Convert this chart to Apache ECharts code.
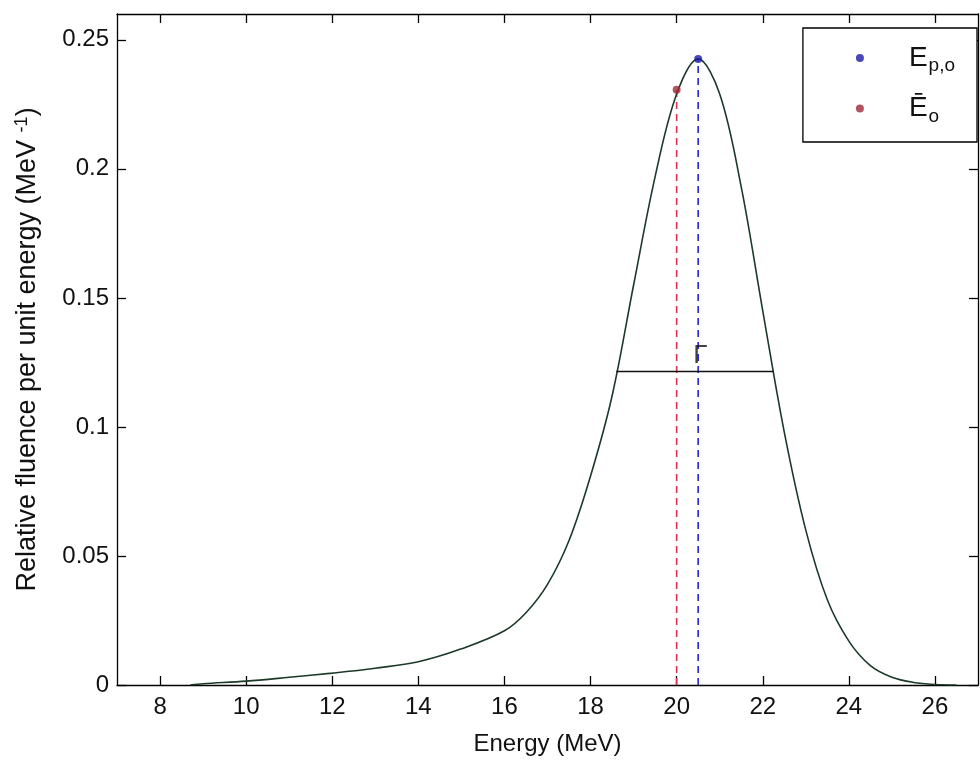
<!DOCTYPE html>
<html>
<head>
<meta charset="utf-8">
<script src="https://cdn.jsdelivr.net/npm/echarts@6/dist/echarts.min.js"></script>
<style>
  html, body { margin: 0; padding: 0; background: #fff; }
  #chart { width: 980px; height: 761px; }
</style>
</head>
<body>
<div id="chart"></div>
<script>
// energy spectrum
const energy = [8.7, 9, 10, 11, 12, 13, 14, 15, 16, 16.5, 17, 17.5, 18, 18.5, 19, 19.5, 20, 20.5, 21, 21.5, 22, 22.5, 23, 23.5, 24, 24.5, 25, 25.5, 26, 26.5];
const fluence = [0, 0.0005, 0.0015, 0.003, 0.0046, 0.0065, 0.009, 0.014, 0.021, 0.028, 0.039, 0.056, 0.081, 0.112, 0.155, 0.197, 0.229, 0.2426, 0.229, 0.193, 0.145, 0.098, 0.06, 0.033, 0.017, 0.0075, 0.003, 0.001, 0.0002, 0];

const peakEnergy = 20.5;     // E_p,o
const peakValue = 0.2426;
const meanEnergy = 20.0;     // mean E_o
const meanValue = 0.2306;
const fwhmLeft = 18.6;
const fwhmRight = 22.25;
const fwhmValue = 0.1215;
const gammaPos = [20.55, 0.1275];

const xTicks = [8, 10, 12, 14, 16, 18, 20, 22, 24, 26];
const yTicks = [0, 0.05, 0.1, 0.15, 0.2, 0.25];

const font = 'Liberation Sans, Arial, sans-serif';
const chart = echarts.init(document.getElementById('chart'));

const curve = energy.map((e, i) => [e, fluence[i]]);

function mirrorAxis(base, pos) {
    return Object.assign({}, base, {
        position: pos,
        axisLabel: { show: false },
        name: ''
    });
}

const xBase = {
    type: 'value', min: 7, max: 27,
    axisLine: { onZero: false, lineStyle: { color: '#000', width: 1.3 } },
    axisTick: { inside: true, length: 9, customValues: xTicks, lineStyle: { color: '#000', width: 1.3 } },
    splitLine: { show: false }
};
const yBase = {
    type: 'value', min: 0, max: 0.26,
    axisLine: { onZero: false, lineStyle: { color: '#000', width: 1.3 } },
    axisTick: { inside: true, length: 9, customValues: yTicks, lineStyle: { color: '#000', width: 1.3 } },
    splitLine: { show: false }
};

const option = {
    animation: false,
    backgroundColor: '#fff',
    grid: { left: 117, top: 14, right: 2, bottom: 75 },
    xAxis: [
        Object.assign({}, xBase, {
            position: 'bottom',
            name: 'Energy (MeV)',
            nameLocation: 'middle',
            nameGap: 47,
            nameTextStyle: { fontFamily: font, fontSize: 24, color: '#111' },
            axisLabel: { customValues: xTicks, fontFamily: font, fontSize: 24, color: '#111', margin: 10 }
        }),
        mirrorAxis(xBase, 'top')
    ],
    yAxis: [
        Object.assign({}, yBase, {
            position: 'left',
            name: 'Relative fluence per unit energy (MeV {sup|-1})',
            nameLocation: 'middle',
            nameGap: 74,
            nameTextStyle: {
                fontFamily: font, fontSize: 27, color: '#111',
                rich: { sup: { fontFamily: font, fontSize: 18, color: '#111', verticalAlign: 'top', padding: [0, 0, 12, 0] } }
            },
            axisLabel: { customValues: yTicks, fontFamily: font, fontSize: 24, color: '#111', margin: 8 }
        }),
        mirrorAxis(yBase, 'right')
    ],
    legend: {
        orient: 'vertical',
        right: 3, top: 28,
        data: ['peak', 'mean'],
        icon: 'circle',
        itemWidth: 8, itemHeight: 8,
        itemGap: 19,
        padding: [16, 22, 16, 53],
        backgroundColor: '#fff',
        borderColor: '#000',
        borderWidth: 1.3,
        borderRadius: 0,
        formatter: name => name === 'peak' ? '{e|E}{s|p,o}' : '{e|Ē}{s|o}',
        textStyle: {
            fontFamily: font, color: '#111',
            rich: {
                e: { fontFamily: font, fontSize: 28, color: '#111', padding: [0, 0, 0, 40] },
                s: { fontFamily: font, fontSize: 19, color: '#111', verticalAlign: 'bottom', padding: [16, 0, 0, 1] }
            }
        }
    },
    series: [
        {
            name: 'spectrum', type: 'line', data: curve,
            smooth: 0.35, showSymbol: false, symbol: 'none',
            lineStyle: { color: '#1c3a28', width: 1.6 }, z: 3
        },
        {
            name: 'fwhm', type: 'line', data: [[fwhmLeft, fwhmValue], [fwhmRight, fwhmValue]],
            symbol: 'none', lineStyle: { color: '#111', width: 1.6 }, z: 3
        },
        {
            name: 'peakLine', type: 'line', data: [[peakEnergy, 0], [peakEnergy, peakValue]],
            symbol: 'none', lineStyle: { color: '#2a2ad0', width: 1.6, type: [7, 5] }, z: 2
        },
        {
            name: 'meanLine', type: 'line', data: [[meanEnergy, 0], [meanEnergy, meanValue]],
            symbol: 'none', lineStyle: { color: '#e03050', width: 1.6, type: [7, 5] }, z: 2
        },
        {
            name: 'peak', type: 'scatter', data: [[peakEnergy, peakValue]],
            symbol: 'circle', symbolSize: 8, itemStyle: { color: '#1a1aa8' }, z: 5
        },
        {
            name: 'mean', type: 'scatter', data: [[meanEnergy, meanValue]],
            symbol: 'circle', symbolSize: 8, itemStyle: { color: '#a02838' }, z: 5
        },
        {
            name: 'gamma', type: 'scatter', data: [gammaPos],
            symbolSize: 0,
            label: { show: true, position: 'inside', formatter: 'Γ', fontFamily: font, fontSize: 26, color: '#111' },
            z: 6
        }
    ]
};

chart.setOption(option);
</script>
</body>
</html>
